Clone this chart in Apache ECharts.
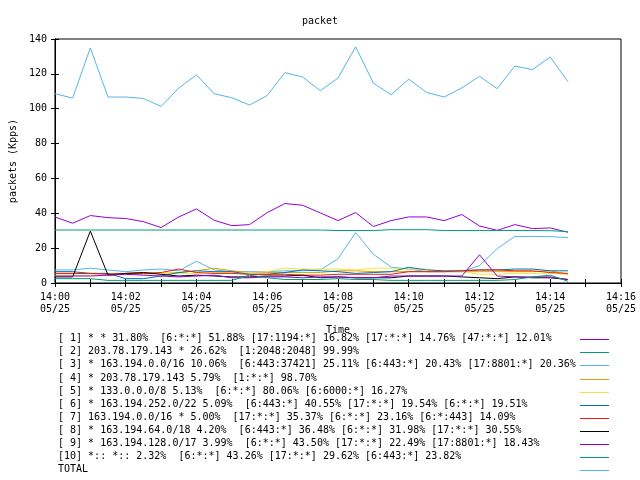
<!DOCTYPE html>
<html>
<head>
<meta charset="utf-8">
<script src="https://cdn.jsdelivr.net/npm/echarts@6/dist/echarts.min.js"></script>
<style>html,body{margin:0;padding:0;background:#fff}#c{width:640px;height:480px}</style>
</head>
<body>
<div id="c"></div>
<script>
// ---- data ----
const times = ['14:00:00','14:00:30','14:01:00','14:01:30','14:02:00','14:02:30','14:03:00','14:03:30','14:04:00','14:04:30',
  '14:05:00','14:05:30','14:06:00','14:06:30','14:07:00','14:07:30','14:08:00','14:08:30','14:09:00','14:09:30',
  '14:10:00','14:10:30','14:11:00','14:11:30','14:12:00','14:12:30','14:13:00','14:13:30','14:14:00','14:14:30'];
const xTickLabels = ['14:00','14:02','14:04','14:06','14:08','14:10','14:12','14:14','14:16'];
const dateLabel = '05/25';
const yTicks = [0,20,40,60,80,100,120,140];

const seriesNames = [
  '[ 1] * * 31.80%  [6:*:*] 51.88% [17:1194:*] 16.82% [17:*:*] 14.76% [47:*:*] 12.01%',
  '[ 2] 203.78.179.143 * 26.62%  [1:2048:2048] 99.99%',
  '[ 3] * 163.194.0.0/16 10.06%  [6:443:37421] 25.11% [6:443:*] 20.43% [17:8801:*] 20.36%',
  '[ 4] * 203.78.179.143 5.79%  [1:*:*] 98.70%',
  '[ 5] * 133.0.0.0/8 5.13%  [6:*:*] 80.06% [6:6000:*] 16.27%',
  '[ 6] * 163.194.252.0/22 5.09%  [6:443:*] 40.55% [17:*:*] 19.54% [6:*:*] 19.51%',
  '[ 7] 163.194.0.0/16 * 5.00%  [17:*:*] 35.37% [6:*:*] 23.16% [6:*:443] 14.09%',
  '[ 8] * 163.194.64.0/18 4.20%  [6:443:*] 36.48% [6:*:*] 31.98% [17:*:*] 30.55%',
  '[ 9] * 163.194.128.0/17 3.99%  [6:*:*] 43.50% [17:*:*] 22.49% [17:8801:*] 18.43%',
  '[10] *:: *:: 2.32%  [6:*:*] 43.26% [17:*:*] 29.62% [6:443:*] 23.82%',
  'TOTAL'
];
const colors = ['#9400d3','#009e73','#56b4e9','#e69f00','#f0e442','#0072b2','#e51e10','#000000','#9400d3','#009e73','#56b4e9'];

const s1 = [37.9,34.3,38.7,37.5,37.0,35.2,31.8,37.9,42.5,36.0,32.9,33.5,40.4,45.6,44.6,40.2,35.8,40.4,32.4,35.8,37.9,37.9,35.8,39.3,32.7,30.2,33.5,31.2,31.6,29.1];
const s2 = [30.4,30.4,30.4,30.4,30.4,30.4,30.4,30.4,30.4,30.4,30.4,30.4,30.4,30.4,30.4,30.4,30.1,30.1,30.1,30.6,30.6,30.6,30.1,30.1,30.1,30.1,30.1,30.1,30.0,29.5];
const s3 = [7.5,7.5,8.5,7.5,6.5,7.5,8.0,7.0,12.5,7.5,6.5,6.5,6.5,7.0,7.0,7.5,13.9,28.9,16.5,9.1,8.0,6.5,6.5,6.5,10.0,19.7,26.7,26.7,26.6,26.0];
const s4 = [5.5,5.5,5.5,5.5,5.5,6.0,5.5,6.0,7.0,8.5,7.0,6.0,6.0,6.0,6.0,6.0,7.0,7.0,6.5,6.5,6.5,6.5,6.5,6.5,6.5,6.5,6.5,6.5,7.0,5.0];
const s5 = [4.5,4.5,4.5,4.5,5.0,5.0,5.5,5.5,5.5,6.0,6.0,6.0,6.5,8.5,8.0,8.0,8.0,7.5,8.5,8.5,8.0,8.0,6.5,6.5,5.0,5.0,5.5,5.5,5.5,5.0];
const s6 = [6.5,6.5,5.5,5.5,2.5,2.5,4.0,6.0,7.0,6.5,6.5,5.0,5.0,6.0,7.5,7.0,6.5,5.5,6.0,6.5,9.0,7.5,7.0,7.0,7.5,7.5,8.0,8.0,7.0,7.0];
const s7 = [5.5,5.5,5.5,5.0,5.5,5.5,6.0,8.0,6.0,5.5,5.5,5.0,5.0,5.0,4.5,4.5,5.0,5.0,5.0,5.0,6.5,6.5,6.5,7.0,7.5,7.5,7.0,7.0,6.0,5.5];
const s8 = [3.5,3.5,29.8,4.5,5.5,6.0,5.0,4.0,4.5,4.0,3.5,3.5,4.0,4.0,4.5,3.0,3.5,3.0,3.0,3.0,4.0,4.0,4.0,3.5,3.0,2.5,3.5,3.0,3.0,2.0];
const s9 = [4.0,4.0,4.0,4.5,5.0,4.5,4.0,3.5,4.0,4.5,3.0,3.0,3.5,3.5,3.0,3.5,3.5,3.0,3.0,4.0,4.0,4.0,4.0,4.0,16.2,4.0,3.5,3.5,3.5,2.0];
const s10 = [2.5,2.5,2.5,1.5,1.5,1.5,1.5,1.5,1.5,1.5,1.5,4.5,3.0,2.0,2.0,2.0,2.5,2.0,2.0,1.5,1.5,1.5,1.5,1.5,1.5,1.5,2.0,3.5,4.5,1.0];
const total = [108.6,106.1,134.9,106.7,106.7,105.9,101.3,111.9,119.4,108.6,106.3,102.1,107.6,120.7,118.2,110.3,117.6,135.5,114.7,108.0,117.0,109.4,106.7,111.9,118.6,111.5,124.5,122.4,129.7,115.5];
const allSeries = [s1,s2,s3,s4,s5,s6,s7,s8,s9,s10,total];

// ---- chart ----
const FONT = '"DejaVu Sans Mono", monospace';
function toSec(t){const p=t.split(':').map(Number);return (p[0]-14)*3600+p[1]*60+p[2];}
function xLabel(v){
  const m = Math.round(v/60);
  if (m % 2 !== 0) return '';
  const lbl = xTickLabels[m/2];
  return lbl ? lbl + '\n' + dateLabel : '';
}
const chart = echarts.init(document.getElementById('c'), null, {renderer:'canvas'});
const axisCommon = {
  axisLine:{show:true,lineStyle:{color:'#000',width:1}},
  axisTick:{show:true,inside:true,length:4,lineStyle:{color:'#000'}},
  splitLine:{show:false}
};
const legendGraphics = [];
seriesNames.forEach((n,i)=>{
  const y = Math.round(339.3 + 13.07*i);
  legendGraphics.push({type:'text',left:58,top:y-6,style:{text:n,font:'10px '+FONT,fill:'#000'}});
  legendGraphics.push({type:'rect',shape:{x:580,y:y,width:29,height:1},style:{fill:colors[i]}});
});
chart.setOption({
  animation:false,
  backgroundColor:'#fff',
  title:{text:'packet',left:'center',top:11,textStyle:{fontFamily:FONT,fontSize:10,fontWeight:'normal',color:'#000'}},
  grid:{left:52,right:19,top:39,bottom:197,show:true,borderColor:'#000',borderWidth:1,containLabel:false},
  xAxis:[
    Object.assign({type:'value',min:0,max:960,interval:60,position:'bottom',
      name:'Time',nameLocation:'middle',nameGap:42,
      nameTextStyle:{fontFamily:FONT,fontSize:10,color:'#000'},
      axisLabel:{formatter:xLabel,fontFamily:FONT,fontSize:10,color:'#000',lineHeight:12,margin:8,showMinLabel:true,showMaxLabel:true}},axisCommon),
    Object.assign({type:'value',min:0,max:960,interval:60,position:'top',axisLabel:{show:false}},axisCommon)
  ],
  yAxis:[
    Object.assign({type:'value',min:yTicks[0],max:yTicks[yTicks.length-1],interval:20,position:'left',
      name:'packets (Kpps)',nameLocation:'middle',nameGap:35,nameRotate:90,
      nameTextStyle:{fontFamily:FONT,fontSize:10,color:'#000'},
      axisLabel:{fontFamily:FONT,fontSize:10,color:'#000',margin:8}},axisCommon),
    Object.assign({type:'value',min:yTicks[0],max:yTicks[yTicks.length-1],interval:20,position:'right',axisLabel:{show:false}},axisCommon)
  ],
  graphic:legendGraphics,
  series: allSeries.map((d,i)=>({
    name:seriesNames[i],type:'line',xAxisIndex:0,yAxisIndex:0,
    data:d.map((v,j)=>[toSec(times[j]),v]),
    showSymbol:false,symbol:'none',
    lineStyle:{color:colors[i],width:1},
    itemStyle:{color:colors[i]},
    z:2+i
  }))
});
</script>
</body>
</html>
